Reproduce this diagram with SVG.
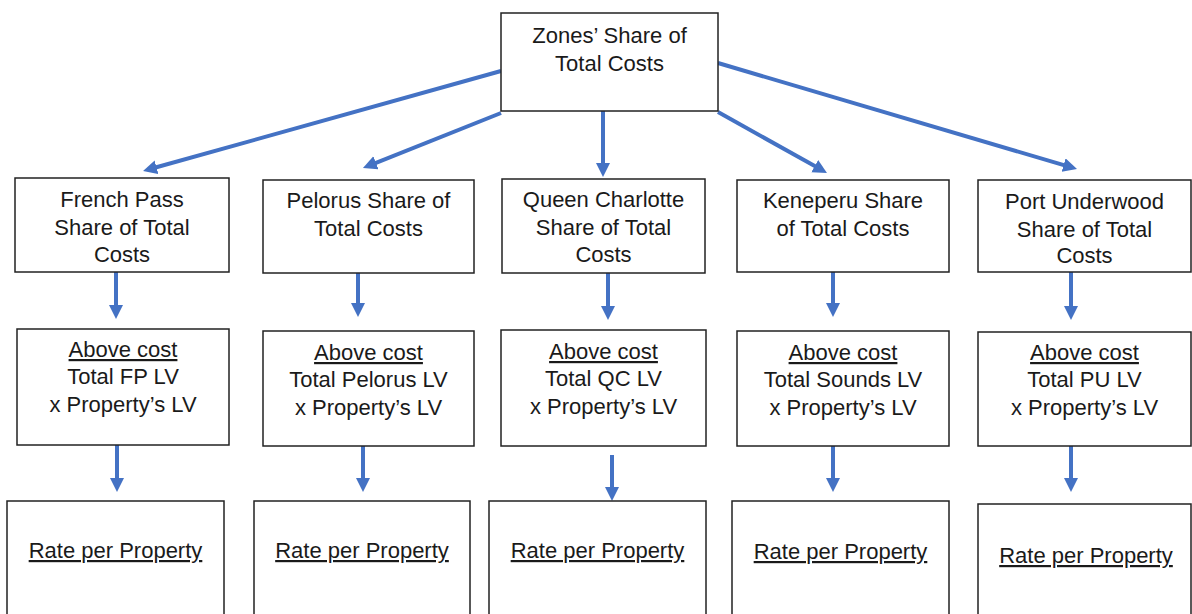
<svg xmlns="http://www.w3.org/2000/svg" width="1192" height="614" viewBox="0 0 1192 614">
<style>
.box{fill:#fff;stroke:#222;stroke-width:1.5}
.t{font-family:"Liberation Sans",Arial,sans-serif;font-size:22px;fill:#1a1a1a;text-anchor:middle}
.u{text-decoration:underline}
.c{stroke:#4472C4;stroke-width:4;fill:none;marker-end:url(#ah)}
</style>
<defs>
<marker id="ah" markerUnits="userSpaceOnUse" markerWidth="16" markerHeight="16" refX="2" refY="7" orient="auto">
<path d="M0,0 L14,7 L0,14 z" fill="#4472C4"/>
</marker>
</defs>
<rect width="1192" height="614" fill="#fff"/>
<g id="connectors">
<line class="c" x1="501" y1="71" x2="154.6" y2="167.8"/>
<line class="c" x1="501" y1="113" x2="374.1" y2="163.6"/>
<line class="c" x1="603" y1="111" x2="603" y2="165"/>
<line class="c" x1="718" y1="112" x2="816.5" y2="167.1"/>
<line class="c" x1="718" y1="63" x2="1065.5" y2="165.6"/>
<line class="c" x1="116" y1="272" x2="116" y2="307"/>
<line class="c" x1="358" y1="273" x2="358" y2="305"/>
<line class="c" x1="608" y1="273" x2="608" y2="308"/>
<line class="c" x1="833" y1="272" x2="833" y2="305"/>
<line class="c" x1="1071" y1="272" x2="1071" y2="308"/>
<line class="c" x1="117" y1="445" x2="117" y2="480"/>
<line class="c" x1="363" y1="446" x2="363" y2="480"/>
<line class="c" x1="612" y1="455" x2="612" y2="489"/>
<line class="c" x1="833" y1="446" x2="833" y2="480"/>
<line class="c" x1="1071" y1="446" x2="1071" y2="480"/>
</g>
<g id="zones">
<rect class="box" x="501" y="13" width="217" height="98"/>
<text class="t" x="609.5" y="43">Zones’ Share of</text>
<text class="t" x="609.5" y="71">Total Costs</text>
</g>
<g id="fp-share">
<rect class="box" x="15" y="178" width="214" height="94"/>
<text class="t" x="122" y="207">French Pass</text>
<text class="t" x="122" y="235">Share of Total</text>
<text class="t" x="122" y="262">Costs</text>
</g>
<g id="pel-share">
<rect class="box" x="263" y="180" width="211" height="93"/>
<text class="t" x="368.5" y="208">Pelorus Share of</text>
<text class="t" x="368.5" y="236">Total Costs</text>
</g>
<g id="qc-share">
<rect class="box" x="502" y="179" width="203" height="94"/>
<text class="t" x="603.5" y="207">Queen Charlotte</text>
<text class="t" x="603.5" y="235">Share of Total</text>
<text class="t" x="603.5" y="262">Costs</text>
</g>
<g id="ken-share">
<rect class="box" x="737" y="180" width="212" height="92"/>
<text class="t" x="843" y="208">Keneperu Share</text>
<text class="t" x="843" y="236">of Total Costs</text>
</g>
<g id="pu-share">
<rect class="box" x="978" y="180" width="213" height="92"/>
<text class="t" x="1084.5" y="209">Port Underwood</text>
<text class="t" x="1084.5" y="237">Share of Total</text>
<text class="t" x="1084.5" y="263">Costs</text>
</g>
<g id="fp-calc">
<rect class="box" x="17" y="329" width="212" height="116"/>
<text class="t u" x="123" y="357">Above cost</text>
<text class="t" x="123" y="384">Total FP LV</text>
<text class="t" x="123" y="412">x Property’s LV</text>
</g>
<g id="pel-calc">
<rect class="box" x="263" y="331" width="211" height="115"/>
<text class="t u" x="368.5" y="360">Above cost</text>
<text class="t" x="368.5" y="387">Total Pelorus LV</text>
<text class="t" x="368.5" y="415">x Property’s LV</text>
</g>
<g id="qc-calc">
<rect class="box" x="501" y="330" width="205" height="116"/>
<text class="t u" x="603.5" y="359">Above cost</text>
<text class="t" x="603.5" y="386">Total QC LV</text>
<text class="t" x="603.5" y="414">x Property’s LV</text>
</g>
<g id="ken-calc">
<rect class="box" x="737" y="331" width="212" height="115"/>
<text class="t u" x="843" y="360">Above cost</text>
<text class="t" x="843" y="387">Total Sounds LV</text>
<text class="t" x="843" y="415">x Property’s LV</text>
</g>
<g id="pu-calc">
<rect class="box" x="978" y="332" width="213" height="114"/>
<text class="t u" x="1084.5" y="360">Above cost</text>
<text class="t" x="1084.5" y="387">Total PU LV</text>
<text class="t" x="1084.5" y="415">x Property’s LV</text>
</g>
<g id="fp-rate">
<rect class="box" x="7" y="501" width="217" height="130"/>
<text class="t u" x="115.5" y="558">Rate per Property</text>
</g>
<g id="pel-rate">
<rect class="box" x="254" y="501" width="216" height="130"/>
<text class="t u" x="362" y="558">Rate per Property</text>
</g>
<g id="qc-rate">
<rect class="box" x="489" y="501" width="217" height="130"/>
<text class="t u" x="597.5" y="558">Rate per Property</text>
</g>
<g id="ken-rate">
<rect class="box" x="732" y="501" width="217" height="130"/>
<text class="t u" x="840.5" y="559">Rate per Property</text>
</g>
<g id="pu-rate">
<rect class="box" x="978" y="504" width="213" height="130"/>
<text class="t u" x="1086" y="563">Rate per Property</text>
</g>
</svg>
